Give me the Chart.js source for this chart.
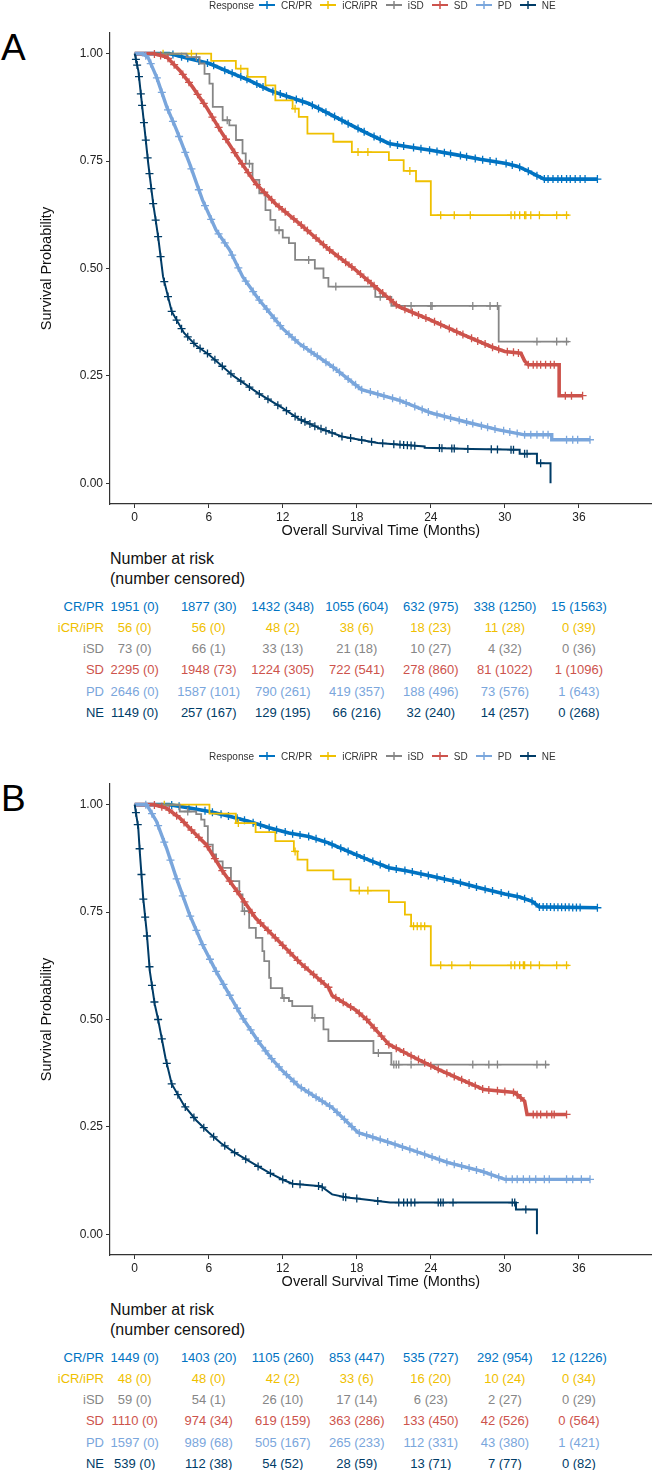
<!DOCTYPE html>
<html>
<head>
<meta charset="utf-8">
<script src="https://cdn.jsdelivr.net/npm/chart.js@4.4.1/dist/chart.umd.min.js"></script>
<style>
  body { margin: 0; background: #fff; font-family: "Liberation Sans", Arial, sans-serif; }
  #page { position: relative; width: 657px; height: 1470px; overflow: hidden; background: #fff; }
  canvas { position: absolute; left: 0; }
  .letter { position: absolute; left: 1px; font-size: 37px; line-height: 37px; color: #000;
            font-family: "Liberation Sans Narrow", "Liberation Sans", Arial, sans-serif; }
  .legend { position: absolute; left: 209px; height: 10px; font-size: 10px; color: #333;
            display: flex; align-items: center; white-space: nowrap; }
  .legend svg { margin: 0 6px 0 8px; }
  .legend svg.first { margin-left: 5px; }
  .rt-head { position: absolute; left: 110px; font-size: 16px; line-height: 20px; color: #111; }
  .rt { position: absolute; font-size: 13px; white-space: nowrap; transform: translate(-50%, -50%); }
  .rt-lab { position: absolute; font-size: 13px; white-space: nowrap; transform: translate(-100%, -50%); }
</style>
</head>
<body>
<div id="page">
  <div class="letter" style="top:29px">A</div>
  <div class="letter" style="top:780px">B</div>
  <canvas id="chartA" width="657" height="540" style="top:0px"></canvas>
  <canvas id="chartB" width="657" height="540" style="top:751px"></canvas>
</div>
<script>
// groups and colours
const groupNames = ['CR/PR', 'iCR/iPR', 'iSD', 'SD', 'PD', 'NE'];
const groupColors = ['#0073C2', '#EFC000', '#868686', '#CD534C', '#7AA6DC', '#003C67'];
const denseGroups = [true, false, false, true, true, true]; // many small steps -> drawn as smooth lines
const lineWidths = [3.6, 1.8, 1.8, 3.6, 3.4, 2];            // heavy censoring shows as a thick band

const xTicks = [0, 6, 12, 18, 24, 30, 36];
const yTicks = [0, 0.25, 0.5, 0.75, 1];

// ---------- Panel A : Kaplan-Meier estimates [month, survival] ----------
const A_CRPR_km = [[0,1],[2.8,1],[4.45,0.988],[6.06,0.977],[7.67,0.957],[9.28,0.938],[10.9,0.915],[12.5,0.899],[14.1,0.884],[15.7,0.861],[17.3,0.837],[18.9,0.814],[20.6,0.791],[22,0.784],[24,0.775],[26,0.765],[28,0.754],[30,0.745],[31,0.738],[31.8,0.728],[32.6,0.716],[33.2,0.708],[37.5,0.708]];
const A_ICR_km = [[0,1],[6.2,0.983],[8.2,0.965],[9.15,0.946],[10.6,0.926],[11.4,0.891],[12.8,0.872],[13.3,0.853],[14.0,0.814],[16.1,0.795],[17.6,0.771],[20.6,0.752],[21.8,0.727],[22.8,0.703],[24.0,0.624],[35.2,0.624]];
const A_ISD_km = [[0,1],[4.2,0.992],[5.26,0.977],[5.66,0.953],[6.06,0.93],[6.33,0.876],[7.13,0.845],[7.67,0.833],[8.21,0.799],[8.74,0.768],[9.0,0.744],[9.55,0.706],[10.1,0.675],[10.6,0.636],[11.0,0.613],[11.4,0.589],[12.0,0.572],[12.5,0.559],[13.0,0.52],[14.6,0.5],[15.3,0.478],[15.7,0.458],[19.5,0.434],[20.8,0.413],[29.5,0.33],[35.2,0.33]];
const A_SD_km = [[0,1],[1.5,1],[2.6,0.992],[3.65,0.961],[4.7,0.922],[5.8,0.876],[7.1,0.814],[8.5,0.752],[9.8,0.698],[11.4,0.651],[13.5,0.601],[15.8,0.543],[17.9,0.497],[18.7,0.477],[21.4,0.411],[24.0,0.38],[26.7,0.345],[28.9,0.318],[30.0,0.307],[31.3,0.303],[31.6,0.285],[31.9,0.276],[34.4,0.276],[34.4,0.204],[36.3,0.204]];
const A_PD_km = [[0,1],[0.7,1],[1.1,0.99],[1.77,0.946],[2.6,0.876],[3.4,0.822],[4.45,0.744],[5.5,0.659],[6.6,0.589],[7.7,0.543],[8.75,0.481],[10,0.43],[11,0.395],[12,0.36],[13.3,0.326],[16,0.272],[18.4,0.218],[21.4,0.194],[24,0.164],[26.7,0.144],[29.4,0.125],[31.6,0.113],[33.8,0.113],[33.8,0.1015],[36.9,0.1015]];
const A_NE_km = [[0,1],[0.3,0.96],[0.7,0.853],[1.1,0.744],[1.5,0.651],[1.9,0.574],[2.3,0.481],[3,0.4],[4,0.35],[5,0.32],[6,0.3],[8,0.25],[10,0.21],[12,0.175],[13.3,0.15],[15,0.128],[16.8,0.109],[19.7,0.094],[23.5,0.086],[23.5,0.083],[27.3,0.08],[31.2,0.078],[31.2,0.069],[32.6,0.069],[32.6,0.047],[33.7,0.047],[33.7,0]];

// censoring times (months)
const A_CRPR_cens = [3.1,3.8,4.3,5.2,5.9,6.4,7.3,7.9,8.6,9.1,9.9,10.4,11.2,11.8,12.3,13.1,13.6,14.4,14.9,15.5,16.2,16.8,17.3,18.1,18.6,19.4,19.9,20.7,21.3,21.8,22.6,23.2,23.9,24.5,25.1,25.6,26.4,26.9,27.6,28.2,28.8,29.3,30.1,30.6,31.2,31.9,32.6,33.2,33.5,33.9,34.3,34.6,35.0,35.3,35.7,36.1,36.5,37.5];
const A_ICR_cens = [2.3,4.6,8.6,13.0,18.1,18.9,22.3,24.8,25.9,27.2,30.5,30.8,31.2,31.6,31.7,32.1,32.8,34.2,35.0];
const A_ISD_cens = [5.0,7.5,9.3,11.7,14.1,16.3,19.9,22.4,24.0,24.1,27.4,28.8,29.4,32.6,34.2,35.0];
const A_SD_cens = [1.6,2.1,2.7,3.2,3.9,4.4,5.1,5.6,6.3,6.8,7.4,8.1,8.7,9.2,9.9,10.5,11.1,11.7,12.2,12.9,13.5,14.0,14.7,15.3,15.8,16.5,17.1,17.6,18.3,18.9,19.4,20.1,20.7,21.2,21.9,22.5,23.0,23.6,24.3,24.8,25.5,26.1,26.6,27.3,27.8,28.4,29.0,29.5,30.2,30.7,31.1,31.9,32.3,32.6,32.9,33.3,33.7,34.0,34.9,35.4,36.3];
const A_PD_cens = [0.9,1.3,1.8,2.2,2.7,3.1,3.6,4.1,4.6,5.2,5.7,6.2,6.8,7.3,7.9,8.4,9.0,9.6,10.1,10.7,11.3,11.8,12.5,13.0,13.7,14.3,14.8,15.5,16.1,16.6,17.3,17.9,18.4,19.1,19.7,20.2,20.9,21.5,22.0,22.7,23.3,23.8,24.5,25.1,25.6,26.3,26.9,27.4,28.1,28.6,29.2,29.9,30.4,31.0,31.6,32.1,32.6,33.1,33.5,35.0,35.5,35.9,36.9];
const A_NE_cens = [0.1,0.2,0.35,0.5,0.6,0.75,0.9,1.05,1.2,1.35,1.5,1.7,1.9,2.1,2.4,2.7,3.0,3.4,3.8,4.3,4.8,5.3,5.9,6.5,7.1,7.8,8.6,9.3,10.1,10.8,11.6,12.3,13.0,13.5,13.8,14.2,14.6,15.1,15.5,16.0,16.8,17.5,18.4,19.2,20.1,21.0,21.5,21.8,22.1,22.4,22.7,24.7,24.9,25.7,25.9,27.0,28.9,29.4,30.5,30.7,31.6,31.8,32.9];

// number at risk / number censored at xTicks
const A_CRPR_risk = [1951,1877,1432,1055,632,338,15];
const A_CRPR_ncens = [0,30,348,604,975,1250,1563];
const A_ICR_risk = [56,56,48,38,18,11,0];
const A_ICR_ncens = [0,0,2,6,23,28,39];
const A_ISD_risk = [73,66,33,21,10,4,0];
const A_ISD_ncens = [0,1,13,18,27,32,36];
const A_SD_risk = [2295,1948,1224,722,278,81,1];
const A_SD_ncens = [0,73,305,541,860,1022,1096];
const A_PD_risk = [2646,1587,790,419,188,73,1];
const A_PD_ncens = [0,101,261,357,496,576,643];
const A_NE_risk = [1149,257,129,66,32,14,0];
const A_NE_ncens = [0,167,195,216,240,257,268];

// ---------- Panel B ----------
const B_CRPR_km = [[0,1],[2.8,1],[4.45,0.992],[6.06,0.984],[7.67,0.973],[9.28,0.961],[10.9,0.946],[12.5,0.934],[14.1,0.926],[15.7,0.911],[17.3,0.891],[18.9,0.872],[20.6,0.853],[22,0.846],[24,0.834],[26,0.821],[28,0.806],[30,0.792],[31.2,0.785],[32.2,0.775],[32.8,0.762],[37.5,0.76]];
const B_ICR_km = [[0,1],[6.06,0.979],[8.2,0.957],[9.8,0.936],[11.4,0.915],[12.9,0.891],[13.2,0.872],[14.0,0.847],[16.1,0.826],[17.5,0.8],[20.6,0.773],[21.9,0.744],[22.4,0.717],[24.0,0.626],[35.2,0.626]];
const B_ISD_km = [[0,1],[3.65,0.984],[4.99,0.978],[5.39,0.965],[5.66,0.95],[5.93,0.907],[6.33,0.884],[6.6,0.868],[7.13,0.853],[7.8,0.822],[8.48,0.791],[8.74,0.752],[9.28,0.713],[9.82,0.69],[10.35,0.659],[10.5,0.636],[10.9,0.597],[11.03,0.573],[11.96,0.55],[12.5,0.543],[12.77,0.531],[14.4,0.504],[15.3,0.477],[15.7,0.45],[19.35,0.422],[20.8,0.395],[33.6,0.395]];
const B_SD_km = [[0,1],[1.5,1],[2.58,0.992],[3.65,0.969],[4.7,0.938],[5.8,0.907],[7.13,0.845],[8.48,0.791],[9.8,0.736],[11.4,0.69],[13.4,0.632],[15.7,0.575],[16,0.556],[17.9,0.522],[18.8,0.5],[20.6,0.442],[22.7,0.411],[24.6,0.384],[26.7,0.357],[28.3,0.337],[30.8,0.33],[31.6,0.31],[31.8,0.279],[35.0,0.279]];
const B_PD_km = [[0,1],[0.97,1],[1.77,0.961],[2.58,0.899],[3.38,0.829],[4.45,0.744],[5.5,0.674],[6.6,0.612],[7.67,0.558],[8.74,0.504],[10,0.45],[11,0.412],[12,0.38],[13.3,0.345],[16,0.295],[18.1,0.237],[20.3,0.217],[22.7,0.194],[25.4,0.167],[28.1,0.147],[30,0.128],[36.9,0.128]];
const B_NE_km = [[0,1],[0.29,0.946],[0.43,0.884],[0.69,0.783],[0.97,0.705],[1.23,0.612],[1.63,0.535],[1.9,0.5],[2.5,0.41],[3,0.35],[4,0.3],[5,0.265],[6,0.237],[7,0.212],[8,0.192],[9,0.175],[10,0.158],[11,0.142],[12.1,0.126],[12.8,0.118],[15.1,0.112],[16.0,0.093],[17.2,0.086],[18.5,0.082],[20.7,0.074],[30.9,0.074],[30.9,0.058],[32.6,0.058],[32.6,0]];

const B_CRPR_cens = [3.0,3.6,4.4,5.0,5.7,6.3,7.0,7.6,8.3,8.9,9.6,10.2,10.9,11.5,12.2,12.8,13.4,14.1,14.7,15.4,16.0,16.7,17.3,18.0,18.6,19.3,19.9,20.6,21.2,21.9,22.5,23.2,23.8,24.5,25.1,25.8,26.4,27.1,27.7,28.4,29.0,29.7,30.3,31.0,31.6,32.2,32.8,33.1,33.4,33.7,34.0,34.3,34.6,34.9,35.2,35.5,35.8,36.1,37.5];
const B_ICR_cens = [2.4,8.4,13.0,18.2,18.9,22.6,22.9,23.2,23.5,24.8,25.7,27.2,30.5,30.8,31.2,31.5,31.6,32.1,32.8,34.2,35.0];
const B_ISD_cens = [4.3,8.9,12.1,14.6,19.75,21.0,21.2,21.4,22.4,27.4,28.7,29.4,32.6,33.3];
const B_SD_cens = [1.6,2.2,2.8,3.4,4.0,4.6,5.2,5.9,6.5,7.1,7.7,8.3,8.9,9.5,10.2,10.8,11.4,12.0,12.6,13.2,13.8,14.5,15.1,15.7,16.3,16.9,17.5,18.2,18.8,19.4,20.0,20.6,21.2,21.8,22.4,23.0,23.5,24.0,24.6,25.3,25.9,26.5,27.1,27.6,28.2,28.7,29.4,30.0,30.7,31.0,31.3,32.3,32.6,32.9,33.4,33.8,34.0,35.0];
const B_PD_cens = [0.9,1.4,1.9,2.4,2.9,3.4,3.9,4.5,5.0,5.5,6.1,6.6,7.2,7.7,8.3,8.8,9.4,10.0,10.6,11.1,11.7,12.3,12.9,13.5,14.1,14.7,15.2,15.8,16.4,17.0,17.6,18.2,18.8,19.3,19.9,20.5,21.1,21.7,22.3,22.9,23.5,24.1,24.7,25.3,25.9,26.5,27.1,27.7,28.3,28.9,29.5,30.1,30.6,31.0,31.5,32.0,32.5,33.2,33.6,35.0,35.5,36.2,36.9];
const B_NE_cens = [0.1,0.25,0.4,0.55,0.7,0.85,1.0,1.2,1.4,1.6,1.9,2.2,2.6,3.0,3.5,4.1,4.8,5.6,6.4,7.3,8.1,9.0,10.0,11.0,12.0,12.8,13.4,14.9,15.2,16.9,17.1,18.0,19.7,21.4,21.8,22.1,22.4,22.7,24.6,24.8,25.0,25.8,30.6,30.8,31.7];

const B_CRPR_risk = [1449,1403,1105,853,535,292,12];
const B_CRPR_ncens = [0,20,260,447,727,954,1226];
const B_ICR_risk = [48,48,42,33,16,10,0];
const B_ICR_ncens = [0,0,2,6,20,24,34];
const B_ISD_risk = [59,54,26,17,6,2,0];
const B_ISD_ncens = [0,1,10,14,23,27,29];
const B_SD_risk = [1110,974,619,363,133,42,0];
const B_SD_ncens = [0,34,159,286,450,526,564];
const B_PD_risk = [1597,989,505,265,112,43,1];
const B_PD_ncens = [0,68,167,233,331,380,421];
const B_NE_risk = [539,112,54,28,13,7,0];
const B_NE_ncens = [0,38,52,59,71,77,82];

const FONT = '"Liberation Sans", Arial, sans-serif';
Chart.defaults.font.family = FONT;

// survival value at time t, to put a censor mark on its curve
function survAt(km, t, stepped) {
  let v = km[0][1];
  for (let i = 0; i < km.length; i++) {
    if (km[i][0] <= t) {
      v = km[i][1];
    } else {
      if (!stepped && i > 0) {
        const p = km[i - 1], q = km[i];
        v = p[1] + (q[1] - p[1]) * (t - p[0]) / (q[0] - p[0]);
      }
      break;
    }
  }
  return v;
}

function makePanel(canvasId, kms, censs) {
  const datasets = [];
  groupNames.forEach((name, i) => {
    const stepped = !denseGroups[i];
    datasets.push({
      label: name,
      data: kms[i].map(p => ({ x: p[0], y: p[1] })),
      showLine: true,
      stepped: stepped,
      borderColor: groupColors[i],
      backgroundColor: groupColors[i],
      borderWidth: lineWidths[i],
      borderJoinStyle: 'miter',
      pointRadius: 0,
      fill: false,
      order: (5 - i) * 2 + 1
    });
    datasets.push({
      label: name + ' censored',
      data: censs[i].map(t => ({ x: t, y: survAt(kms[i], t, stepped) })),
      showLine: false,
      pointStyle: 'cross',
      pointRadius: 4,
      borderWidth: 1.3,
      borderColor: groupColors[i],
      backgroundColor: groupColors[i],
      order: (5 - i) * 2
    });
  });

  const ctx = document.getElementById(canvasId).getContext('2d');
  return new Chart(ctx, {
    type: 'scatter',
    data: { datasets: datasets },
    options: {
      responsive: false,
      animation: false,
      devicePixelRatio: 1,
      layout: { padding: { top: 33, right: 2, bottom: 0, left: 0 } },
      plugins: { legend: { display: false }, tooltip: { enabled: false } },
      scales: {
        x: {
          type: 'linear',
          min: -2.0,
          max: 41.9,
          afterFit: s => { s.height = 36; },
          afterBuildTicks: s => { s.ticks = xTicks.map(v => ({ value: v })); },
          ticks: { font: { size: 12 }, color: '#222', padding: 2, maxRotation: 0, autoSkip: false,
                   callback: v => String(v) },
          grid: { display: true, drawOnChartArea: false, drawTicks: true, tickLength: 4,
                  tickColor: '#333', tickWidth: 1 },
          border: { display: true, color: '#333', width: 1.2 },
          title: { display: true, text: 'Overall Survival Time (Months)', color: '#111',
                   font: { size: 14.5 }, padding: { top: 0, bottom: 0 } }
        },
        y: {
          type: 'linear',
          min: -0.048,
          max: 1.048,
          afterFit: s => { s.width = 110; },
          afterBuildTicks: s => { s.ticks = yTicks.map(v => ({ value: v })); },
          ticks: { font: { size: 12 }, color: '#222', padding: 3, callback: v => v.toFixed(2) },
          grid: { display: true, drawOnChartArea: false, drawTicks: true, tickLength: 4,
                  tickColor: '#333', tickWidth: 1 },
          border: { display: true, color: '#333', width: 1.2 },
          title: { display: true, text: 'Survival Probability', color: '#111',
                   font: { size: 14.5 }, padding: { top: 38, bottom: 0 } }
        }
      }
    }
  });
}

function buildLegend(top) {
  const lg = document.createElement('div');
  lg.className = 'legend';
  lg.style.top = top + 'px';
  let html = '<span>Response</span>';
  groupNames.forEach((n, i) => {
    const c = groupColors[i];
    html += `<svg class="${i === 0 ? 'first' : ''}" width="16" height="10">` +
            `<line x1="0" y1="5" x2="16" y2="5" stroke="${c}" stroke-width="2"/>` +
            `<line x1="8" y1="1" x2="8" y2="9" stroke="${c}" stroke-width="1.5"/></svg>` +
            `<span>${n}</span>`;
  });
  lg.innerHTML = html;
  document.getElementById('page').appendChild(lg);
}

function buildRiskTable(chart, headTop, rowTop, risks, ncens) {
  const page = document.getElementById('page');
  const head = document.createElement('div');
  head.className = 'rt-head';
  head.style.top = headTop + 'px';
  head.innerHTML = 'Number at risk<br>(number censored)';
  page.appendChild(head);

  const xs = chart.scales.x;
  groupNames.forEach((name, i) => {
    const y = rowTop + i * 21.2;
    const lab = document.createElement('div');
    lab.className = 'rt-lab';
    lab.style.left = '104px';
    lab.style.top = y + 'px';
    lab.style.color = groupColors[i];
    lab.textContent = name;
    page.appendChild(lab);
    xTicks.forEach((t, k) => {
      const cell = document.createElement('div');
      cell.className = 'rt';
      cell.style.left = xs.getPixelForValue(t) + 'px';
      cell.style.top = y + 'px';
      cell.style.color = groupColors[i];
      cell.textContent = `${risks[i][k]} (${ncens[i][k]})`;
      page.appendChild(cell);
    });
  });
}

const chartA = makePanel('chartA',
  [A_CRPR_km, A_ICR_km, A_ISD_km, A_SD_km, A_PD_km, A_NE_km],
  [A_CRPR_cens, A_ICR_cens, A_ISD_cens, A_SD_cens, A_PD_cens, A_NE_cens]);
const chartB = makePanel('chartB',
  [B_CRPR_km, B_ICR_km, B_ISD_km, B_SD_km, B_PD_km, B_NE_km],
  [B_CRPR_cens, B_ICR_cens, B_ISD_cens, B_SD_cens, B_PD_cens, B_NE_cens]);

buildLegend(0);
buildLegend(751);

buildRiskTable(chartA, 549, 605.7,
  [A_CRPR_risk, A_ICR_risk, A_ISD_risk, A_SD_risk, A_PD_risk, A_NE_risk],
  [A_CRPR_ncens, A_ICR_ncens, A_ISD_ncens, A_SD_ncens, A_PD_ncens, A_NE_ncens]);
buildRiskTable(chartB, 1300, 1356.7,
  [B_CRPR_risk, B_ICR_risk, B_ISD_risk, B_SD_risk, B_PD_risk, B_NE_risk],
  [B_CRPR_ncens, B_ICR_ncens, B_ISD_ncens, B_SD_ncens, B_PD_ncens, B_NE_ncens]);
</script>
</body>
</html>
